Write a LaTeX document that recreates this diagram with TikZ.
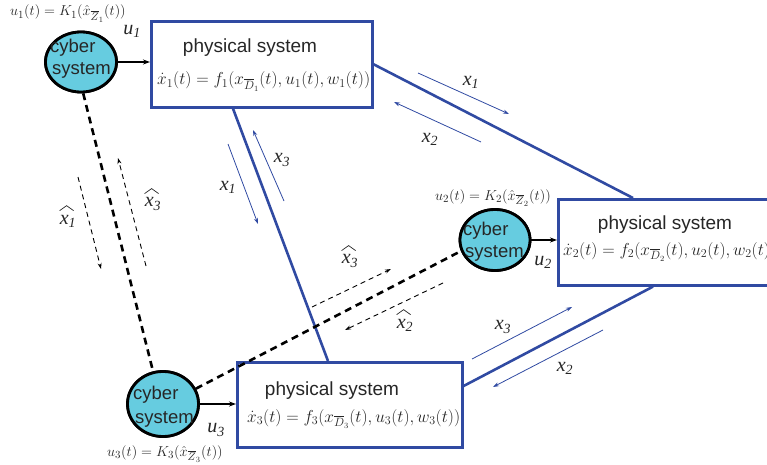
\documentclass[tikz,border=0pt]{standalone}
\usepackage{fontspec}
\newfontfamily\sansf{Liberation Sans}
\newfontfamily\serf{Liberation Serif}
\usetikzlibrary{arrows.meta,calc,shapes.geometric}
\definecolor{pblue}{RGB}{48,74,162}
\definecolor{ccyan}{RGB}{102,204,224}
\newcommand\lx[2]{#1\textsubscript{#2}}
\tikzset{
  pbox/.style={draw=pblue, line width=2.6pt, inner sep=0pt, anchor=north west, fill=white},
  cyb/.style={ellipse, draw=black, line width=2.8pt, fill=ccyan, inner sep=0pt},
  ctext/.style={anchor=base west, inner sep=0pt, font=\sansf\fontsize{18.5}{20}\selectfont, text=black!85},
  ptext/.style={anchor=base, inner sep=0pt, font=\sansf\fontsize{19}{21}\selectfont, text=black!85},
  eqn/.style={anchor=base west, inner sep=0pt, font=\fontsize{16.8}{18}\selectfont, text=black!85},
  klab/.style={anchor=base west, inner sep=0pt, font=\fontsize{15.4}{16}\selectfont, text=black!85},
  link/.style={pblue, line width=2.6pt},
  flow/.style={pblue, line width=0.8pt, -{Stealth[length=6pt,width=4pt]}},
  clink/.style={black, line width=2.6pt, dash pattern=on 7pt off 5pt},
  cflow/.style={black, line width=0.9pt, dash pattern=on 5pt off 4pt, -{Stealth[length=6pt,width=4pt]}},
  ctrl/.style={black, line width=2pt, -{Stealth[length=7pt,width=5pt]}},
  lab/.style={inner sep=0pt, font=\serf\itshape\fontsize{20}{22}\selectfont, text=black!85},
  hatline/.style={black!85, line width=0.7pt},
}
\begin{document}
\begin{tikzpicture}[x=1pt,y=-1pt]
\useasboundingbox (0,0) rectangle (767,465);
% boxes
\node[pbox, minimum width=211pt, minimum height=86pt] (b2) at (557,198) {};
\node[pbox, minimum width=221pt, minimum height=86pt] (b1) at (150,20) {};
\node[pbox, minimum width=225pt, minimum height=85pt] (b3) at (236,361) {};
% attachment points
\coordinate (b2t) at ($(b2.north west)+(76pt,0)$);
\coordinate (b2b) at ($(b2.south west)+(96pt,0)$);
\coordinate (b1b) at ($(b1.south west)+(83pt,0)$);
\coordinate (b3t) at ($(b3.north west)+(92pt,0)$);
\coordinate (b3r) at ($(b3.north east)+(0,-25pt)$);
% physical links
\draw[link] (b1.east) -- (b2t);
\draw[link] (b1b) -- (b3t);
\draw[link] (b3r) -- (b2b);
% cyber nodes
\node[cyb, minimum width=71pt, minimum height=60pt] (c1) at (81,62) {};
\node[cyb, minimum width=70pt, minimum height=61pt] (c2) at (495,240) {};
\node[cyb, minimum width=71pt, minimum height=65pt] (c3) at (163,404) {};
% cyber links
\draw[clink] (c1.-86) -- (c3.107);
\draw[clink] (c3.25) -- (c2.198);
% redraw cyber circles on top
\node[cyb, minimum width=71pt, minimum height=60pt] (c1f) at (81,62) {};
\node[cyb, minimum width=70pt, minimum height=61pt] (c2f) at (495,240) {};
\node[cyb, minimum width=71pt, minimum height=65pt] (c3f) at (163,404) {};
\node[ctext] (c1a) at (50,53) {cyber};
\node[ctext] (c1s) at (52,75) {system};
\node[ctext] (c2a) at (463,235) {cyber};
\node[ctext] (c2s) at (465,257) {system};
\node[ctext] (c3a) at (133,399) {cyber};
\node[ctext] (c3s) at (135,423) {system};
% control arrows
\draw[ctrl] (c1.east) -- (c1.east -| b1.west);
\draw[ctrl] (c2.east) -- (c2.east -| b2.west);
\draw[ctrl] (c3.east) -- (c3.east -| b3.west);
\node[lab] (u1) at (132,31) {\lx{u}{1}};
\node[lab] (u2) at (543,262) {\lx{u}{2}};
\node[lab] (u3) at (216,430) {\lx{u}{3}};
% box texts
\node[ptext] (p1) at (250,53) {physical system};
\node[ptext] (p2) at (665,229) {physical system};
\node[ptext] (p3) at (332,395) {physical system};
\node[eqn] (e1) at (157,85) {$\dot{x}_1(t)=f_1(x_{\overline{D}_1}(t),u_1(t),w_1(t))$};
\node[eqn] (e2) at (563,255) {$\dot{x}_2(t)=f_2(x_{\overline{D}_2}(t),u_2(t),w_2(t))$};
\node[eqn] (e3) at (247,422) {$\dot{x}_3(t)=f_3(x_{\overline{D}_3}(t),u_3(t),w_3(t))$};
% controller laws
\node[klab] (k1) at (10,16) {$u_1(t)=K_1(\hat{x}_{\overline{Z}_1}(t))$};
\node[klab] (k2) at (435,200) {$u_2(t)=K_2(\hat{x}_{\overline{Z}_2}(t))$};
\node[klab] (k3) at (107,456) {$u_3(t)=K_3(\hat{x}_{\overline{Z}_3}(t))$};
% physical flows
\draw[flow] (418,73) -- (509,114);
\draw[flow] (481,142) -- (394,102);
\draw[flow] (228,144) -- (258,224);
\draw[flow] (284,201) -- (253,130);
\draw[flow] (472,359) -- (572,307);
\draw[flow] (603,330) -- (493,387);
\node[lab] (f1) at (471,82) {\lx{x}{1}};
\node[lab] (f2) at (430,139) {\lx{x}{2}};
\node[lab] (f3) at (228,187) {\lx{x}{1}};
\node[lab] (f4) at (282,160) {\lx{x}{3}};
\node[lab] (f5) at (503,327) {\lx{x}{3}};
\node[lab] (f6) at (565,368) {\lx{x}{2}};
% cyber flows
\draw[cflow] (78,177) -- (101,269);
\draw[cflow] (146,266) -- (118,158);
\draw[cflow] (312,307) -- (391,269);
\draw[cflow] (443,283) -- (345,330);
\node[lab] (h1) at (68,221) {\lx{x}{1}};
\node[lab] (h2) at (153,204) {\lx{x}{3}};
\node[lab] (h3) at (350,261) {\lx{x}{3}};
\node[lab] (h4) at (405,325) {\lx{x}{2}};
\foreach \h in {h1,h2,h3,h4}{
  \draw[hatline] ($(\h.north west)+(0,-4)$) -- ($(\h.north west)+(7,-9)$) -- ($(\h.north west)+(14,-4)$);
}
\end{tikzpicture}
\end{document}
